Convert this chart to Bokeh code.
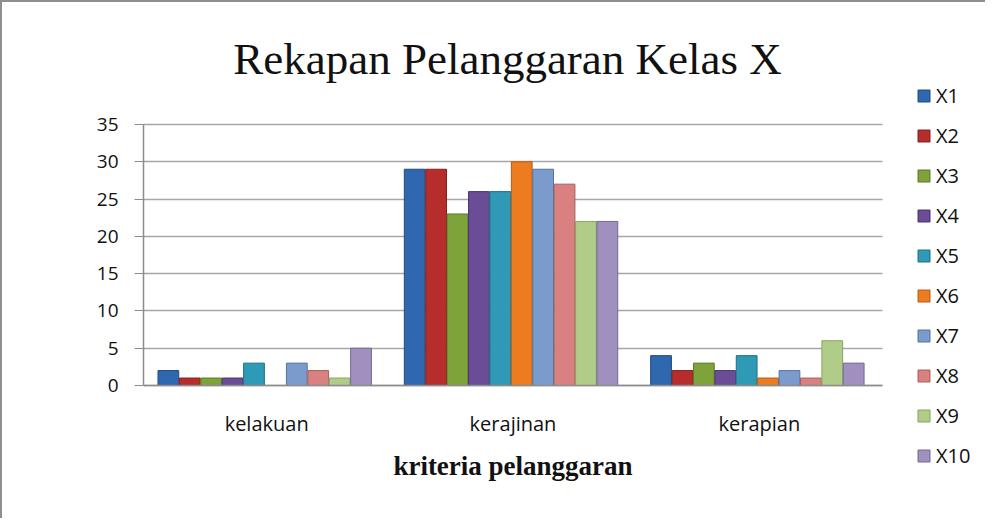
from bokeh.plotting import figure
from bokeh.models import Range1d, FixedTicker, Legend, LegendItem, Label
from bokeh.embed import file_html
from bokeh.resources import INLINE

categories = ["kelakuan", "kerajinan", "kerapian"]
series = ["X1", "X2", "X3", "X4", "X5", "X6", "X7", "X8", "X9", "X10"]
X1 = [2, 29, 4]
X2 = [1, 29, 2]
X3 = [1, 23, 3]
X4 = [1, 26, 2]
X5 = [3, 26, 4]
X6 = [0, 30, 1]
X7 = [3, 29, 2]
X8 = [2, 27, 1]
X9 = [1, 22, 6]
X10 = [5, 22, 3]
y_ticks = [0, 5, 10, 15, 20, 25, 30, 35]
y_max = 35

values = [X1, X2, X3, X4, X5, X6, X7, X8, X9, X10]
colors = ["#2f68ae", "#b62d2c", "#7fa33b", "#6a4c97", "#2e9ab6",
          "#ec7c1f", "#7b9bcc", "#d98181", "#b1cc88", "#a090c0"]
edges = ["#1f4a80", "#842020", "#5b7829", "#4b356e", "#1f7087",
         "#b35d14", "#56729e", "#a85f5f", "#87a363", "#76688f"]

# ---- layout geometry (pixels) ----
W, H = 985, 518
MB_LEFT, MB_RIGHT, MB_TOP, MB_BOTTOM = 141, 0, 8, 10
frame_w = W - MB_LEFT - MB_RIGHT
frame_h = H - MB_TOP - MB_BOTTOM
axis_px_w = 739          # width of the category area
axis_px_h = 261          # height of the 0..35 value area
zero_from_bottom = 125   # pixels from frame bottom to value 0

ncat = len(categories)
x_end = frame_w / (axis_px_w / ncat)
ppu = axis_px_h / y_max
y_start = -zero_from_bottom / ppu
y_end = (frame_h - zero_from_bottom) / ppu

p = figure(width=W, height=H, output_backend="svg", toolbar_location=None,
           x_range=Range1d(0, x_end), y_range=Range1d(y_start, y_end),
           min_border_left=MB_LEFT, min_border_right=MB_RIGHT,
           min_border_top=MB_TOP, min_border_bottom=MB_BOTTOM)
p.styles = {"border-left": "2px solid #8e8e8e", "border-top": "2px solid #8e8e8e"}
p.outline_line_color = None
p.background_fill_color = "white"
p.border_fill_color = "white"

centers = [i + 0.5 for i in range(ncat)]
data = {"x": centers}
for s, v in zip(series, values):
    data[s] = v

# grid (only across the category area)
p.xgrid.grid_line_color = None
g = p.ygrid[0]
g.grid_line_color = "#a6a6a6"
g.grid_line_width = 1.5
g.ticker = FixedTicker(ticks=y_ticks)
if "cross_bounds" in g.properties():
    g.cross_bounds = (0, ncat)
else:
    p.quad(left=ncat, right=x_end, bottom=-1, top=y_max + 1,
           fill_color="white", line_color=None)

bw = 0.0869
items = []
for i, (s, c, e) in enumerate(zip(series, colors, edges)):
    off = (i - 4.5) * bw - 0.008
    xs = [cx + off for cx in centers]
    r = p.vbar(x=xs, top=data[s], width=bw * 0.97,
               fill_color=c, line_color=e, line_width=1)
    items.append(LegendItem(label=s, renderers=[r]))

legend = Legend(items=items, location=(773, 41), padding=0, margin=0,
                border_line_color=None, background_fill_alpha=0,
                glyph_width=15, glyph_height=15, label_height=28, spacing=12,
                label_standoff=5,
                label_text_font="Open Sans", label_text_font_size="20px",
                label_text_color="#111111")
p.add_layout(legend)

# y axis
p.yaxis.ticker = FixedTicker(ticks=y_ticks)
p.yaxis.bounds = (0, y_max)
p.yaxis.axis_line_color = "#8c8c8c"
p.yaxis.axis_line_width = 1.5
p.yaxis.major_tick_line_color = "#8c8c8c"
p.yaxis.major_tick_out = 9
p.yaxis.major_tick_in = 0
p.yaxis.minor_tick_line_color = None
p.yaxis.major_label_standoff = 16
p.yaxis.major_label_text_font = "Open Sans"
p.yaxis.major_label_text_font_size = "19px"
p.yaxis.major_label_text_color = "#111111"

# x axis (category axis at value 0)
p.xaxis.ticker = FixedTicker(ticks=centers)
p.xaxis.major_label_overrides = {c: lab for c, lab in zip(centers, categories)}
p.xaxis.bounds = (0, ncat)
p.xaxis.fixed_location = 0
p.xaxis.axis_line_color = "#8c8c8c"
p.xaxis.axis_line_width = 1.5
p.xaxis.major_tick_line_color = None
p.xaxis.minor_tick_line_color = None
p.xaxis.major_label_standoff = 18
p.xaxis.major_label_text_font = "Open Sans"
p.xaxis.major_label_text_font_size = "20px"
p.xaxis.major_label_text_color = "#111111"
p.xaxis.axis_label = "kriteria pelanggaran"
p.xaxis.axis_label_text_font = "Liberation Serif"
p.xaxis.axis_label_text_font_style = "bold"
p.xaxis.axis_label_text_font_size = "27px"
p.xaxis.axis_label_text_color = "#111111"
p.xaxis.axis_label_standoff = 11

title = Label(x=364, y=frame_h - 48, x_units="screen", y_units="screen",
              text="Rekapan Pelanggaran Kelas X", text_align="center",
              text_baseline="alphabetic", text_font="Liberation Serif",
              text_font_size="45px", text_color="#111111")
p.add_layout(title)

open("out.html", "w").write(file_html(p, INLINE))
